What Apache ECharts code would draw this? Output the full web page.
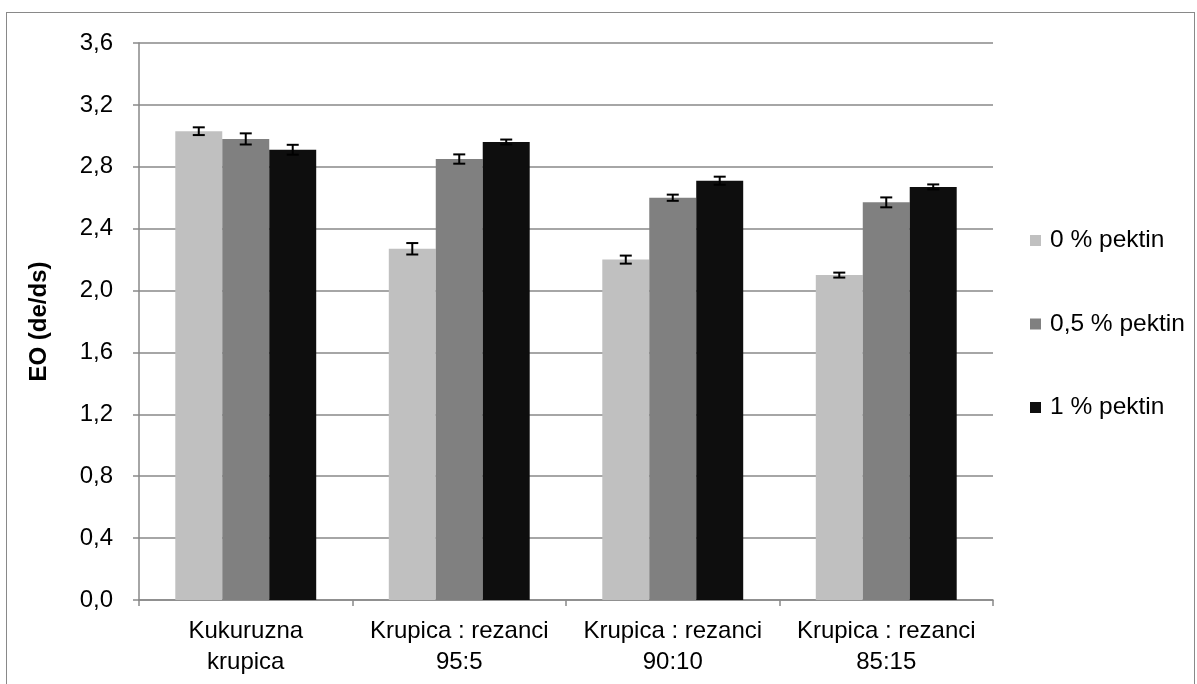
<!DOCTYPE html>
<html>
<head>
<meta charset="utf-8">
<script src="https://cdn.jsdelivr.net/npm/echarts@6/dist/echarts.min.js"></script>
<style>
  html, body { margin: 0; padding: 0; background: #fff; }
  #frame { position: absolute; left: 6px; top: 12px; width: 1189px; height: 700px; border: 1.5px solid #898989; box-sizing: border-box; }
  #chart { position: absolute; left: 0; top: 0; width: 1197px; height: 684px; }
</style>
</head>
<body>
<div id="frame"></div>
<div id="chart"></div>
<script>
const categories = ['Kukuruzna\nkrupica', 'Krupica : rezanci\n95:5', 'Krupica : rezanci\n90:10', 'Krupica : rezanci\n85:15'];
const seriesNames = ['0 % pektin', '0,5 % pektin', '1 % pektin'];
const values0 = [3.03, 2.27, 2.20, 2.10];
const values05 = [2.98, 2.85, 2.60, 2.57];
const values1 = [2.91, 2.96, 2.71, 2.67];
const errors0 = [0.025, 0.037, 0.026, 0.016];
const errors05 = [0.036, 0.030, 0.020, 0.032];
const errors1 = [0.032, 0.016, 0.026, 0.016];
const yTicks = ['0,0', '0,4', '0,8', '1,2', '1,6', '2,0', '2,4', '2,8', '3,2', '3,6'];

const colors = ['#c0c0c0', '#808080', '#0e0e0e'];
const allValues = [values0, values05, values1];
const allErrors = [errors0, errors05, errors1];
const FONT = '"Liberation Sans", Arial, sans-serif';
const GAP = 0.34;

const chart = echarts.init(document.getElementById('chart'), null, { renderer: 'canvas' });

const barSeries = seriesNames.map((name, i) => ({
  name: name,
  type: 'bar',
  data: allValues[i],
  barGap: '0%',
  barCategoryGap: (GAP * 100) + '%',
  itemStyle: { color: colors[i] },
  z: 2
}));

const errSeries = seriesNames.map((name, i) => ({
  name: name + ' err',
  type: 'custom',
  data: allValues[i].map((v, j) => [j, v, allErrors[i][j]]),
  z: 5,
  silent: true,
  renderItem: function (params, api) {
    const idx = api.value(0);
    const val = api.value(1);
    const err = api.value(2);
    const band = api.size([1, 0])[0];
    const bw = band * (1 - GAP) / 3;
    const center = api.coord([idx, val]);
    const x = center[0] + (i - 1) * bw;
    const yHi = api.coord([idx, val + err])[1];
    const yLo = api.coord([idx, val - err])[1];
    const cap = 6;
    const style = { stroke: '#000', lineWidth: 2, fill: null };
    return {
      type: 'group',
      children: [
        { type: 'line', shape: { x1: x, y1: yHi, x2: x, y2: yLo }, style: style },
        { type: 'line', shape: { x1: x - cap, y1: yHi, x2: x + cap, y2: yHi }, style: style },
        { type: 'line', shape: { x1: x - cap, y1: yLo, x2: x + cap, y2: yLo }, style: style }
      ]
    };
  }
}));

const option = {
  animation: false,
  backgroundColor: 'transparent',
  textStyle: { fontFamily: FONT },
  grid: { left: 139, top: 43, right: 204, bottom: 84, containLabel: false },
  legend: {
    orient: 'vertical',
    left: 1025,
    top: 223,
    itemWidth: 11,
    itemHeight: 11,
    itemGap: 58.5,
    icon: 'rect',
    data: seriesNames.map((n, i) => ({ name: n, itemStyle: { color: colors[i] } })),
    textStyle: { fontFamily: FONT, fontSize: 24.5, color: '#000', lineHeight: 25, padding: [0, 0, 0, 4] }
  },
  xAxis: {
    type: 'category',
    data: categories,
    axisLine: { show: true, lineStyle: { color: '#898989', width: 1.5 } },
    axisTick: { show: true, length: 6, lineStyle: { color: '#898989', width: 1.5 } },
    axisLabel: { fontFamily: FONT, fontSize: 24, color: '#000', lineHeight: 31, margin: 16, interval: 0 },
    splitLine: { show: false }
  },
  yAxis: {
    type: 'value',
    min: 0,
    max: 3.6,
    interval: 0.4,
    name: 'EO (de/ds)',
    nameLocation: 'middle',
    nameRotate: 90,
    nameGap: 88,
    nameTextStyle: { fontFamily: FONT, fontSize: 24, fontWeight: 'bold', color: '#000' },
    axisLine: { show: true, lineStyle: { color: '#898989', width: 1.5 } },
    axisTick: { show: true, length: 6, lineStyle: { color: '#898989', width: 1.5 } },
    axisLabel: {
      fontFamily: FONT, fontSize: 24, color: '#000', margin: 26,
      formatter: function (v) { return yTicks[Math.round(v / 0.4)]; }
    },
    splitLine: { show: true, lineStyle: { color: '#898989', width: 1.5 } }
  },
  series: barSeries.concat(errSeries)
};

chart.setOption(option);
</script>
</body>
</html>
